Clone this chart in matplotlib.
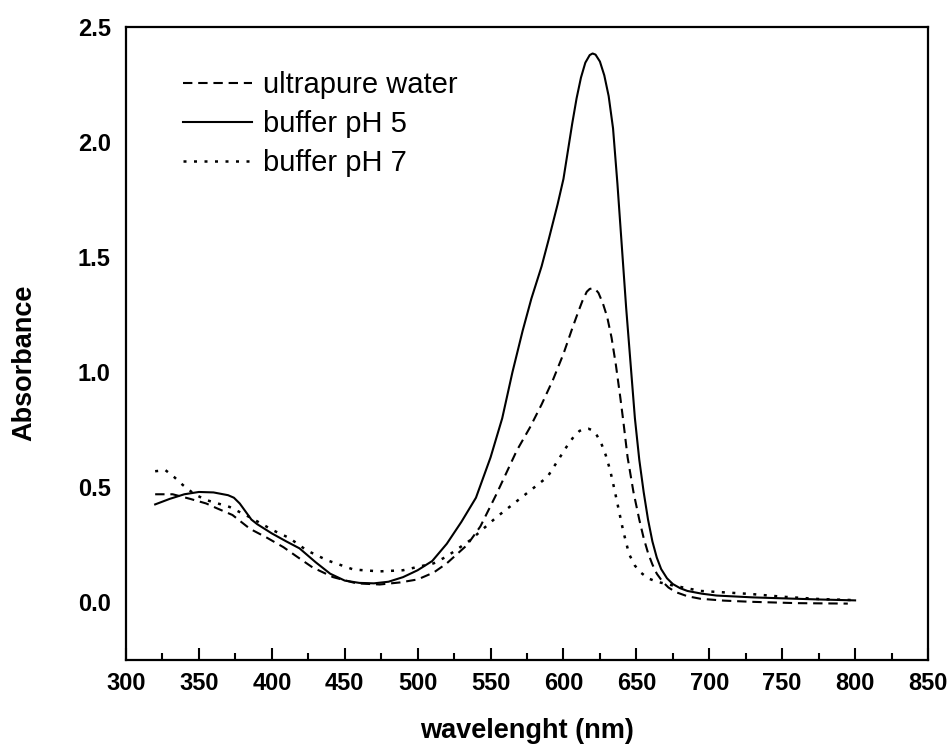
import matplotlib
matplotlib.use("Agg")
import matplotlib.pyplot as plt
from matplotlib.ticker import MultipleLocator, FormatStrFormatter

plt.rcParams['font.family'] = ['Liberation Sans', 'DejaVu Sans']

# ---- data ----
wl_water = [320, 332, 344, 355, 362, 373, 385, 397, 408, 417, 428, 442, 458, 474, 488,
            500, 511, 520, 527, 534, 543, 554, 568, 577, 585, 593, 600, 606, 610, 613,
            616, 618, 620, 622, 624, 627, 630, 633, 636, 639, 641, 644, 648, 652, 655,
            658, 661, 664, 668, 672, 677, 685, 694, 710, 728, 760, 795]
abs_water = [0.47, 0.47, 0.45, 0.43, 0.41, 0.38, 0.32, 0.28, 0.24, 0.20, 0.152, 0.11, 0.083,
             0.078, 0.087, 0.10, 0.13, 0.17, 0.21, 0.25, 0.33, 0.47, 0.66, 0.76, 0.86, 0.97,
             1.08, 1.19, 1.26, 1.31, 1.35, 1.362, 1.365, 1.36, 1.345, 1.30, 1.24, 1.15, 1.03,
             0.89, 0.79, 0.63, 0.48, 0.36, 0.28, 0.215, 0.165, 0.125, 0.09, 0.065, 0.045,
             0.027, 0.016, 0.008, 0.003, -0.003, -0.005]

wl_ph5 = [320, 330, 340, 350, 360, 370, 374, 378, 382, 386, 390, 400, 410, 419, 430, 440,
          450, 460, 470, 480, 490, 500, 510, 520, 530, 540, 550, 558, 565, 572, 578, 585,
          590, 596, 600, 603, 606, 609, 612, 615, 618, 620, 622, 625, 628, 631, 634, 637,
          640, 643, 646, 649, 652, 655, 658, 661, 664, 667, 671, 675, 680, 685, 695, 705,
          730, 750, 775, 800]
abs_ph5 = [0.426, 0.45, 0.47, 0.48, 0.478, 0.466, 0.455, 0.43, 0.395, 0.36, 0.34, 0.30,
           0.265, 0.235, 0.175, 0.125, 0.095, 0.085, 0.083, 0.09, 0.11, 0.14, 0.18, 0.255,
           0.35, 0.455, 0.63, 0.80, 1.00, 1.18, 1.32, 1.46, 1.58, 1.73, 1.84, 1.96, 2.08,
           2.19, 2.28, 2.345, 2.378, 2.385, 2.38, 2.35, 2.29, 2.20, 2.06, 1.82, 1.55, 1.28,
           1.04, 0.80, 0.62, 0.48, 0.36, 0.265, 0.195, 0.145, 0.105, 0.08, 0.062, 0.05,
           0.038, 0.03, 0.022, 0.018, 0.013, 0.009]

wl_ph7 = [320, 327, 333, 339, 347, 355, 363, 371, 385, 401, 412, 424, 438, 456, 474, 490,
          511, 520, 536, 554, 570, 589, 602, 607, 611, 614, 617, 620, 623, 626, 629, 632,
          635, 638, 641, 645, 649, 653, 658, 664, 675, 694, 728, 750, 775, 800]
abs_ph7 = [0.57, 0.575, 0.545, 0.51, 0.47, 0.445, 0.43, 0.415, 0.37, 0.313, 0.28, 0.226,
           0.183, 0.143, 0.135, 0.14, 0.17, 0.20, 0.27, 0.37, 0.45, 0.545, 0.675, 0.72,
           0.745, 0.754, 0.755, 0.748, 0.725, 0.69, 0.64, 0.575, 0.49, 0.40, 0.31, 0.21,
           0.16, 0.13, 0.105, 0.09, 0.074, 0.05, 0.037, 0.025, 0.015, 0.01]

labels = ["ultrapure water", "buffer pH 5", "buffer pH 7"]
x_ticks = [300, 350, 400, 450, 500, 550, 600, 650, 700, 750, 800, 850]
y_ticks = [0.0, 0.5, 1.0, 1.5, 2.0, 2.5]

# ---- figure ----
fig = plt.figure(figsize=(9.5, 7.49), dpi=100)
ax = fig.add_axes([126/950, (749-660)/749, 802/950, 633/749])

ax.plot(wl_water, abs_water, color='black', lw=1.5, linestyle=(0, (4.5, 2.8)), label=labels[0])
ax.plot(wl_ph5, abs_ph5, color='black', lw=1.5, linestyle='-', label=labels[1])
ax.plot(wl_ph7, abs_ph7, color='black', lw=1.8, linestyle=(0, (1.2, 3.0)), label=labels[2])

ax.set_xlim(300, 850)
ax.set_ylim(-0.25, 2.5)
ax.set_xticks(x_ticks)
ax.xaxis.set_minor_locator(MultipleLocator(25))
ax.set_yticks(y_ticks)
ax.yaxis.set_major_formatter(FormatStrFormatter('%.1f'))

for s in ax.spines.values():
    s.set_linewidth(1.6)

ax.tick_params(axis='x', which='major', direction='in', length=8.6, width=1.5,
               labelsize=17, pad=9, top=False)
ax.tick_params(axis='x', which='minor', direction='in', length=4.7, width=1.5, top=False)
ax.tick_params(axis='y', which='both', length=0, labelsize=17, pad=11, right=False)
for lab in ax.get_xticklabels() + ax.get_yticklabels():
    lab.set_fontweight('bold')

ax.set_xlabel("wavelenght (nm)", fontsize=19.5, fontweight='bold', va='center')
ax.xaxis.set_label_coords(0.5, -0.112)
ax.set_ylabel("Absorbance", fontsize=19.5, fontweight='bold', va='center')
ax.yaxis.set_label_coords(-0.127, 0.47)

leg = ax.legend(loc='upper left', bbox_to_anchor=(0.071, 0.930), frameon=False,
                fontsize=21, handlelength=2.36, handletextpad=0.38,
                labelspacing=0.37, borderpad=0, borderaxespad=0)

fig.savefig("out.png", dpi=100)
